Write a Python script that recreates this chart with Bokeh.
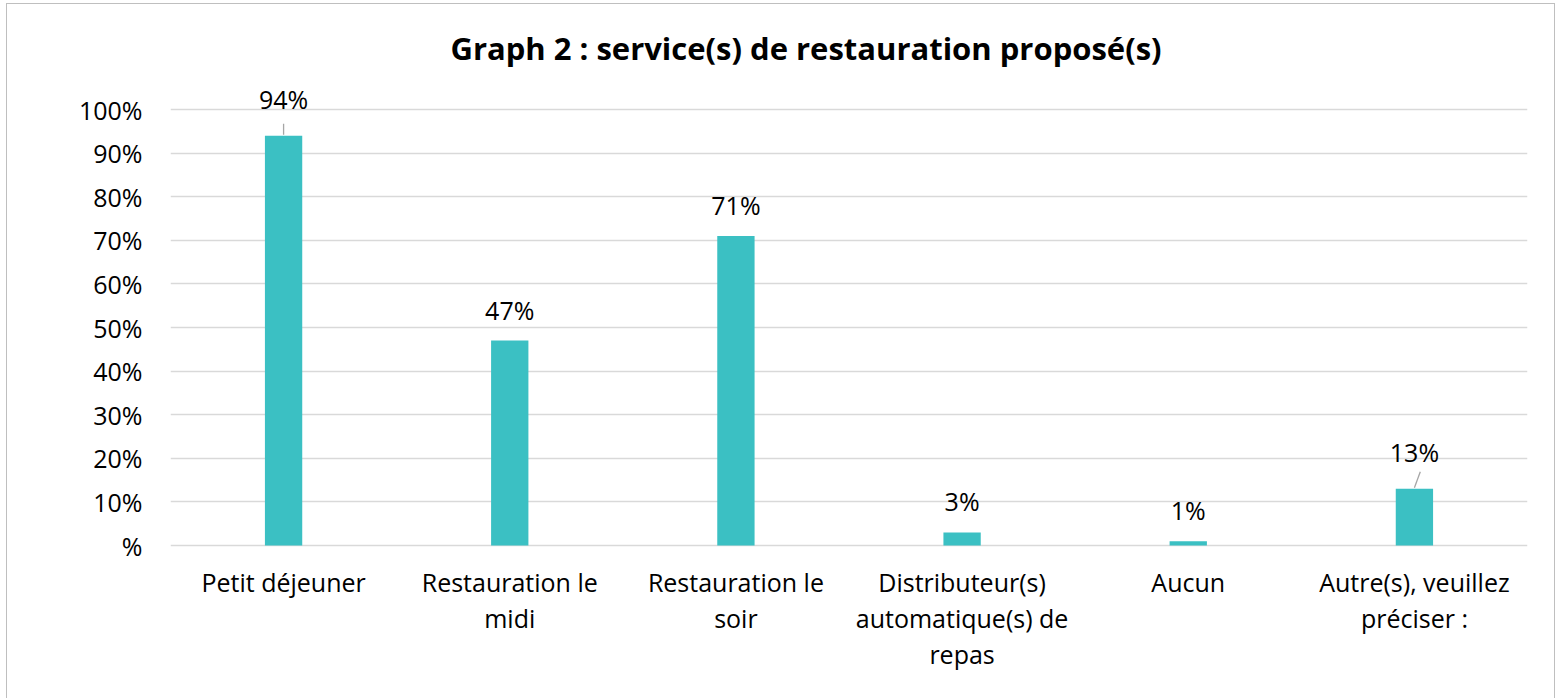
from bokeh.plotting import figure
from bokeh.models import ColumnDataSource, FixedTicker, Label
from bokeh.core.properties import value
from bokeh.embed import file_html
from bokeh.resources import INLINE

# ---- data ----
categories = ["Petit déjeuner", "Restauration le midi", "Restauration le soir",
              "Distributeur(s) automatique(s) de repas", "Aucun",
              "Autre(s), veuillez préciser :"]
wrapped_labels = ["Petit déjeuner", "Restauration le\nmidi", "Restauration le\nsoir",
                  "Distributeur(s)\nautomatique(s) de\nrepas", "Aucun",
                  "Autre(s), veuillez\npréciser :"]
values = [94, 47, 71, 3, 1, 13]
value_labels = ["94%", "47%", "71%", "3%", "1%", "13%"]
leader = [True, False, False, False, False, True]
y_ticks = [0, 10, 20, 30, 40, 50, 60, 70, 80, 90, 100]
y_tick_labels = ["%", "10%", "20%", "30%", "40%", "50%", "60%", "70%", "80%", "90%", "100%"]
title_text = "Graph 2 : service(s) de restauration proposé(s)"

FONT = "Open Sans"
BAR = "#3BC0C3"
PPU = 4.36            # pixels per percentage point
PX = 1.0 / PPU        # data units per pixel on y
ORIGIN_X, ORIGIN_Y = 7, 4   # page position of the figure's content (after margin + border)
TOP_PAD = 109 - 15    # px of frame above the 100% line
BOTTOM_PAD = 153      # px of frame below the 0% line

p = figure(x_range=categories,
           y_range=(-BOTTOM_PAD * PX, 100 + TOP_PAD * PX),
           frame_width=1357, frame_height=436 + TOP_PAD + BOTTOM_PAD,
           min_border_left=170 - ORIGIN_X, min_border_right=27,
           min_border_top=15 - ORIGIN_Y, min_border_bottom=0,
           output_backend="svg", toolbar_location=None,
           background_fill_color="white", border_fill_color="white")
p.outline_line_color = None
p.styles = {"border": "1px solid #BFBFBF", "margin-left": "6px", "margin-top": "3px"}

src = ColumnDataSource(dict(
    cat=categories, val=values, lab=value_labels, wlab=wrapped_labels,
    zero=[0] * len(values),
    yoff=[-37 if l else -31 for l in leader],
))
p.vbar(x="cat", top="val", width=0.165, source=src, color=BAR, line_color=None)

# data labels
p.text(x="cat", y="val", text="lab", source=src, y_offset="yoff",
       text_font=value(FONT), text_font_size="25px", text_color="black",
       text_align="center", text_baseline="alphabetic")

# category labels (multi-line, below the 0 line)
p.text(x="cat", y="zero", text="wlab", source=src, y_offset=19,
       text_font=value(FONT), text_font_size="25px", text_color="black",
       text_align="center", text_baseline="top", text_line_height=1.06)

# leader lines
lx0, ly0, lx1, ly1 = [], [], [], []
for i, (c, v, l) in enumerate(zip(categories, values, leader)):
    if l:
        last = i == len(categories) - 1
        lx0.append(i + 0.5)
        ly0.append(v + 1 * PX)
        lx1.append(i + 0.5 + (0.026 if last else 0))
        ly1.append(v + (17 if last else 12) * PX)
p.segment(lx0, ly0, lx1, ly1, line_color="#A6A6A6", line_width=1.3)

# axes
p.xaxis.visible = False
p.xgrid.grid_line_color = None
p.ygrid.grid_line_color = "#D9D9D9"
p.ygrid.grid_line_width = 1.3
p.yaxis.ticker = FixedTicker(ticks=y_ticks)
p.yaxis.major_label_overrides = {t: s for t, s in zip(y_ticks, y_tick_labels)}
ax = p.yaxis[0]
ax.axis_line_color = None
ax.major_tick_line_color = None
ax.minor_tick_line_color = None
ax.major_tick_out = 0
ax.major_tick_in = 0
ax.major_label_text_font = FONT
ax.major_label_text_font_size = "25px"
ax.major_label_text_color = "black"
ax.major_label_standoff = 28

# title
p.add_layout(Label(x=2.81, y=100 + 62 * PX, text=title_text,
                   text_font=FONT, text_font_size="31px", text_font_style="bold",
                   text_align="center", text_baseline="alphabetic", text_color="black"))

open("out.html", "w").write(file_html(p, INLINE))
